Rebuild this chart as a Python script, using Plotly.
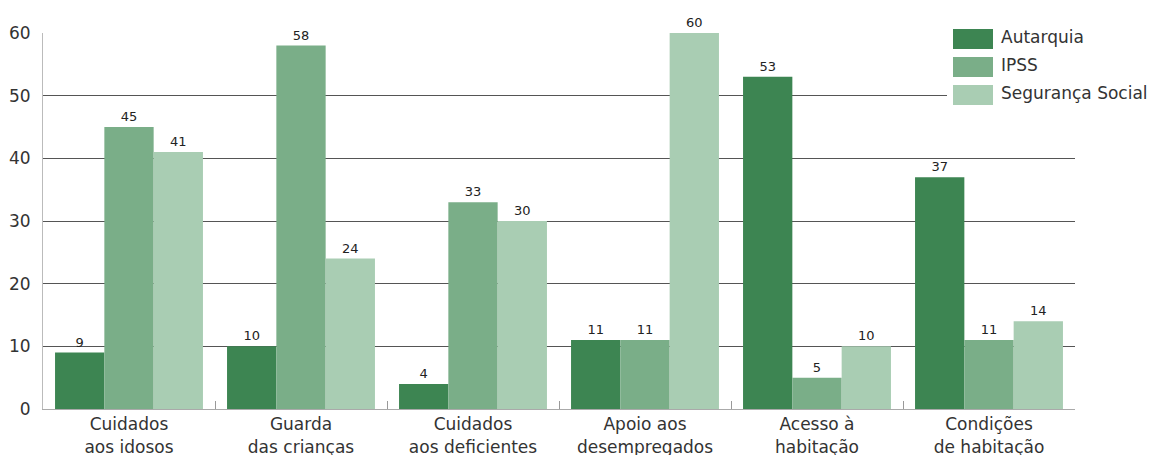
import plotly.graph_objects as go

# Categories and series values
categories = [
    "Cuidados<br>aos idosos",
    "Guarda<br>das crianças",
    "Cuidados<br>aos deficientes",
    "Apoio aos<br>desempregados",
    "Acesso à<br>habitação",
    "Condições<br>de habitação",
]
series_names = ["Autarquia", "IPSS", "Segurança Social"]
autarquia = [9, 10, 4, 11, 53, 37]
ipss = [45, 58, 33, 11, 5, 11]
seguranca_social = [41, 24, 30, 60, 10, 14]
y_ticks = [0, 10, 20, 30, 40, 50, 60]

colors = ["#3d8552", "#7aae88", "#a9cdb3"]
FONT = "'DejaVu Sans', sans-serif"

W, H = 1155, 455
M = dict(l=43, r=80, t=33, b=46)

fig = go.Figure()
for name, vals, col in zip(series_names, [autarquia, ipss, seguranca_social], colors):
    fig.add_trace(go.Bar(
        name=name, x=categories, y=vals, marker=dict(color=col, line=dict(width=0)),
        text=[str(v) for v in vals], textposition="outside", cliponaxis=False,
        textfont=dict(size=13, color="#222222", family=FONT),
        showlegend=False,
    ))


def px_x(p):
    return (p - M["l"]) / (W - M["l"] - M["r"])


def px_y(p):
    return (H - M["b"] - p) / (H - M["t"] - M["b"])


# Legend drawn as a white panel with swatches and labels
shapes = [dict(type="rect", xref="paper", yref="paper", layer="above",
               x0=px_x(947), x1=px_x(1155), y0=px_y(114), y1=px_y(20),
               fillcolor="white", line=dict(width=0))]
annotations = []
for i, (name, col) in enumerate(zip(series_names, colors)):
    top = 29 + i * 28
    shapes.append(dict(type="rect", xref="paper", yref="paper", layer="above",
                       x0=px_x(953), x1=px_x(993), y0=px_y(top + 20), y1=px_y(top),
                       fillcolor=col, line=dict(width=0)))
    annotations.append(dict(xref="paper", yref="paper", x=px_x(999), y=px_y(top + 8),
                            text=name, showarrow=False, xanchor="left", yanchor="middle",
                            font=dict(size=17, color="#333333", family=FONT)))

fig.update_layout(
    width=W, height=H, margin=M,
    paper_bgcolor="white", plot_bgcolor="white",
    barmode="group", bargap=0.14, bargroupgap=0,
    font=dict(family=FONT, color="#333333"),
    shapes=shapes, annotations=annotations,
    xaxis=dict(
        automargin=False,
        tickson="boundaries", ticks="inside", ticklen=8, tickcolor="#999999",
        showline=True, linecolor="#aaaaaa", linewidth=1,
        tickfont=dict(size=17, color="#333333", family=FONT),
        showgrid=False,
    ),
    yaxis=dict(
        automargin=False,
        range=[0, 60], tickvals=y_ticks, showgrid=True, gridcolor="#555555", gridwidth=1,
        zeroline=False, showline=True, linecolor="#bbbbbb", linewidth=1,
        tickfont=dict(size=17, color="#333333", family=FONT), ticks="", ticklabelstandoff=8,
    ),
)

fig.write_html("out.html")
